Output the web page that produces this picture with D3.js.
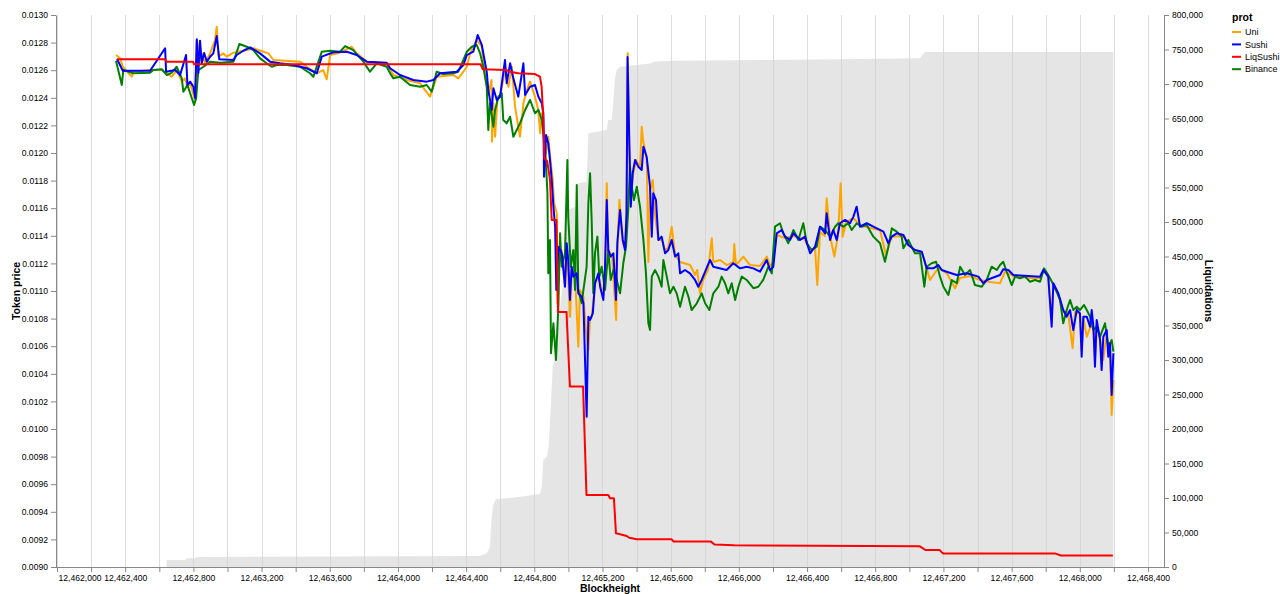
<!DOCTYPE html>
<html>
<head>
<meta charset="utf-8">
<script src="https://cdn.jsdelivr.net/npm/d3@7"></script>
<style>
  body { margin: 0; background: #fff; }
  svg text { font-family: "Liberation Sans", Arial, sans-serif; }
</style>
</head>
<body>
<svg id="chart"></svg>
<script>
// series names + colours, legend order
const protNames = ['Uni', 'Sushi', 'LiqSushi', 'Binance'];
const protColors = ['orange', 'blue', 'red', 'green'];

// [blockheight, token price]
const uni = [
  [12462346,0.012710],[12462370,0.012686],[12462386,0.012625],[12462439,0.012553],[12462448,0.012589],[12462546,0.012601],[12462615,0.012601],[12462644,0.012578],[12462673,0.012553],[12462703,0.012601],
  [12462732,0.012517],[12462751,0.012541],[12462765,0.012480],[12462781,0.012505],[12462810,0.012384],[12462820,0.012819],[12462839,0.012674],[12462849,0.012722],[12462869,0.012650],[12462898,0.012722],
  [12462927,0.012819],[12462937,0.012915],[12462947,0.012698],[12462976,0.012722],[12462996,0.012698],[12463035,0.012727],[12463113,0.012746],[12463152,0.012759],[12463211,0.012734],[12463240,0.012722],
  [12463269,0.012674],[12463426,0.012662],[12463465,0.012625],[12463524,0.012578],[12463562,0.012601],[12463582,0.012534],[12463602,0.012710],[12463660,0.012727],[12463729,0.012770],[12463758,0.012722],
  [12463817,0.012662],[12463934,0.012650],[12463973,0.012565],[12464052,0.012529],[12464130,0.012505],[12464188,0.012408],[12464228,0.012553],[12464325,0.012565],[12464354,0.012541],[12464384,0.012589],
  [12464404,0.012625],[12464423,0.012722],[12464462,0.012819],[12464492,0.012770],[12464511,0.012553],[12464529,0.012420],[12464549,0.012529],[12464552,0.012082],[12464560,0.012360],[12464570,0.012118],
  [12464583,0.012384],[12464599,0.012408],[12464628,0.012601],[12464648,0.012480],[12464668,0.012625],[12464687,0.012336],[12464716,0.012118],[12464736,0.012360],[12464756,0.012457],[12464775,0.012517],
  [12464804,0.012408],[12464823,0.012312],[12464834,0.012143],[12464844,0.012288],[12464853,0.012167],[12464869,0.011998],[12464882,0.012118],[12464892,0.011986],[12464908,0.011804],[12464916,0.011636],
  [12464932,0.011563],[12464936,0.010911],[12464941,0.011273],[12464961,0.011297],[12464980,0.011080],[12464990,0.011333],[12465010,0.010814],[12465020,0.011152],[12465039,0.011116],[12465058,0.010596],
  [12465068,0.011007],[12465088,0.010959],[12465103,0.010717],[12465117,0.010573],[12465127,0.010790],[12465137,0.010814],[12465156,0.011044],[12465176,0.011116],[12465186,0.011058],[12465205,0.010971],
  [12465215,0.011152],[12465225,0.011780],[12465234,0.011297],[12465256,0.011261],[12465280,0.010790],[12465287,0.011297],[12465299,0.011659],[12465319,0.011348],[12465332,0.011312],[12465341,0.011515],
  [12465348,0.012722],[12465357,0.012022],[12465366,0.011659],[12465379,0.011841],[12465397,0.011949],[12465420,0.011891],[12465430,0.012191],[12465438,0.012094],[12465460,0.011949],[12465469,0.011210],
  [12465479,0.011732],[12465495,0.011804],[12465508,0.011551],[12465528,0.011370],[12465549,0.011370],[12465567,0.011297],[12465585,0.011312],[12465606,0.011466],[12465626,0.011261],[12465655,0.011210],
  [12465714,0.011188],[12465743,0.011116],[12465756,0.011152],[12465772,0.010983],[12465790,0.011080],[12465819,0.011152],[12465841,0.011382],[12465850,0.011210],[12465890,0.011225],[12465929,0.011188],
  [12465968,0.011210],[12465973,0.011341],[12465983,0.011188],[12466026,0.011249],[12466066,0.011188],[12466124,0.011181],[12466164,0.011249],[12466183,0.011181],[12466202,0.011210],[12466222,0.011406],
  [12466271,0.011384],[12466320,0.011399],[12466359,0.011384],[12466388,0.011370],[12466417,0.011297],[12466447,0.011312],[12466460,0.011044],[12466476,0.011428],[12466505,0.011399],[12466515,0.011672],
  [12466535,0.011399],[12466560,0.011249],[12466582,0.011406],[12466597,0.011780],[12466609,0.011393],[12466629,0.011500],[12466671,0.011529],[12466711,0.011478],[12466769,0.011457],[12466828,0.011442],
  [12466863,0.011261],[12466897,0.011393],[12466965,0.011399],[12466994,0.011333],[12467033,0.011297],[12467073,0.011283],[12467102,0.011164],[12467121,0.011080],[12467170,0.011167],[12467219,0.011130],
  [12467268,0.011020],[12467297,0.011094],[12467356,0.011109],[12467415,0.011080],[12467473,0.011065],[12467532,0.011056],[12467561,0.011138],[12467610,0.011109],[12467708,0.011094],[12467767,0.011094],
  [12467790,0.011152],[12467815,0.011101],[12467835,0.010790],[12467845,0.011044],[12467874,0.010971],[12467903,0.010848],[12467931,0.010848],[12467958,0.010585],[12467972,0.010848],[12468001,0.010833],
  [12468011,0.010573],[12468021,0.010804],[12468041,0.010669],[12468060,0.010732],[12468079,0.010746],[12468089,0.010500],[12468101,0.010775],[12468119,0.010645],[12468138,0.010500],[12468158,0.010703],
  [12468167,0.010573],[12468177,0.010609],[12468187,0.010101],[12468197,0.010355]
];

const sushi = [
  [12462352,0.012681],[12462386,0.012596],[12462546,0.012596],[12462634,0.012759],[12462640,0.012589],[12462693,0.012601],[12462722,0.012565],[12462757,0.012710],[12462765,0.012493],[12462781,0.012517],
  [12462800,0.012480],[12462810,0.012399],[12462820,0.012824],[12462829,0.012580],[12462839,0.012814],[12462849,0.012650],[12462863,0.012725],[12462879,0.012662],[12462898,0.012698],[12462917,0.012722],
  [12462937,0.012848],[12462952,0.012679],[12463035,0.012674],[12463054,0.012710],[12463093,0.012741],[12463133,0.012766],[12463191,0.012722],[12463250,0.012662],[12463308,0.012650],[12463387,0.012638],
  [12463465,0.012614],[12463524,0.012578],[12463553,0.012698],[12463621,0.012730],[12463700,0.012734],[12463758,0.012710],[12463817,0.012662],[12463934,0.012654],[12463954,0.012614],[12464012,0.012565],
  [12464090,0.012529],[12464169,0.012517],[12464208,0.012529],[12464247,0.012578],[12464345,0.012589],[12464384,0.012638],[12464404,0.012710],[12464442,0.012734],[12464468,0.012855],[12464492,0.012783],
  [12464521,0.012587],[12464530,0.012457],[12464550,0.012312],[12464560,0.012469],[12464580,0.012384],[12464599,0.012408],[12464628,0.012674],[12464638,0.012505],[12464658,0.012650],[12464677,0.012541],
  [12464706,0.012408],[12464736,0.012650],[12464746,0.012420],[12464775,0.012480],[12464804,0.012493],[12464824,0.012408],[12464844,0.012360],[12464853,0.012288],[12464857,0.011828],[12464869,0.012130],
  [12464882,0.012070],[12464892,0.011949],[12464902,0.011804],[12464912,0.011611],[12464922,0.011466],[12464929,0.011007],[12464941,0.011321],[12464961,0.011273],[12464980,0.011031],[12464990,0.011346],
  [12464999,0.011225],[12465009,0.010935],[12465019,0.011176],[12465029,0.011104],[12465049,0.011128],[12465058,0.010983],[12465078,0.010959],[12465088,0.010911],[12465107,0.010089],[12465117,0.010814],
  [12465127,0.010790],[12465143,0.010838],[12465156,0.011056],[12465176,0.011128],[12465186,0.011031],[12465205,0.010935],[12465215,0.011176],[12465225,0.011659],[12465234,0.011297],[12465248,0.011249],
  [12465264,0.011273],[12465279,0.010935],[12465287,0.011346],[12465303,0.011587],[12465319,0.011370],[12465332,0.011297],[12465341,0.011565],[12465347,0.012696],[12465357,0.012094],[12465366,0.011611],
  [12465377,0.011853],[12465391,0.011949],[12465410,0.011901],[12465430,0.011877],[12465440,0.012046],[12465459,0.011973],[12465479,0.011756],[12465489,0.011394],[12465498,0.011708],[12465514,0.011659],
  [12465528,0.011370],[12465547,0.011394],[12465567,0.011273],[12465586,0.011297],[12465606,0.011370],[12465626,0.011249],[12465645,0.011273],[12465655,0.011128],[12465684,0.011152],[12465713,0.011128],
  [12465743,0.011080],[12465762,0.011031],[12465782,0.011080],[12465831,0.011225],[12465850,0.011176],[12465928,0.011152],[12465967,0.011201],[12466007,0.011164],[12466046,0.011176],[12466085,0.011164],
  [12466124,0.011140],[12466163,0.011225],[12466183,0.011152],[12466202,0.011176],[12466222,0.011418],[12466251,0.011442],[12466271,0.011394],[12466300,0.011370],[12466320,0.011418],[12466359,0.011370],
  [12466388,0.011394],[12466418,0.011273],[12466447,0.011321],[12466476,0.011466],[12466506,0.011418],[12466515,0.011563],[12466535,0.011370],[12466554,0.011442],[12466574,0.011370],[12466593,0.011491],
  [12466623,0.011515],[12466652,0.011491],[12466672,0.011539],[12466691,0.011611],[12466711,0.011466],[12466750,0.011491],[12466789,0.011466],[12466848,0.011430],[12466877,0.011346],[12466897,0.011394],
  [12466926,0.011418],[12466965,0.011406],[12466994,0.011333],[12467033,0.011297],[12467073,0.011285],[12467102,0.011164],[12467141,0.011164],[12467170,0.011188],[12467190,0.011152],[12467219,0.011140],
  [12467278,0.011116],[12467337,0.011128],[12467405,0.011104],[12467434,0.011056],[12467454,0.011080],[12467532,0.011116],[12467551,0.011157],[12467581,0.011152],[12467610,0.011116],[12467767,0.011104],
  [12467786,0.011152],[12467815,0.011104],[12467835,0.010741],[12467845,0.011056],[12467874,0.010983],[12467903,0.010862],[12467923,0.010814],[12467943,0.010862],[12467962,0.010717],[12467982,0.010862],
  [12468001,0.010838],[12468011,0.010524],[12468021,0.010814],[12468041,0.010814],[12468060,0.010741],[12468070,0.010862],[12468080,0.010741],[12468089,0.010451],[12468099,0.010790],[12468119,0.010645],
  [12468128,0.010427],[12468138,0.010669],[12468158,0.010717],[12468167,0.010524],[12468177,0.010621],[12468187,0.010246],[12468197,0.010549]
];

const liqSushi = [
  [12462352,0.012679],[12462634,0.012679],[12462643,0.012662],[12462798,0.012662],[12462804,0.012643],[12464485,0.012643],[12464497,0.012607],[12464638,0.012601],[12464657,0.012589],[12464706,0.012578],
  [12464804,0.012572],[12464833,0.012553],[12464843,0.012480],[12464853,0.012239],[12464859,0.011962],[12464876,0.011940],[12464892,0.011804],[12464902,0.011515],[12464930,0.011515],[12464939,0.010848],
  [12464989,0.010848],[12464993,0.010730],[12465009,0.010308],[12465086,0.010308],[12465106,0.009522],[12465234,0.009522],[12465244,0.009498],[12465267,0.009498],[12465279,0.009244],[12465303,0.009237],
  [12465342,0.009225],[12465357,0.009212],[12465401,0.009201],[12465606,0.009201],[12465617,0.009184],[12465836,0.009184],[12465857,0.009163],[12465971,0.009157],[12467062,0.009150],[12467094,0.009123],
  [12467177,0.009123],[12467198,0.009097],[12467858,0.009097],[12467889,0.009083],[12468194,0.009083]
];

const binance = [
  [12462346,0.012669],[12462380,0.012493],[12462389,0.012601],[12462448,0.012578],[12462546,0.012582],[12462565,0.012601],[12462615,0.012607],[12462644,0.012565],[12462673,0.012582],[12462702,0.012625],
  [12462732,0.012541],[12462741,0.012444],[12462765,0.012493],[12462781,0.012433],[12462804,0.012348],[12462816,0.012396],[12462829,0.012601],[12462859,0.012625],[12462898,0.012662],[12462957,0.012654],
  [12463035,0.012662],[12463070,0.012790],[12463113,0.012770],[12463152,0.012746],[12463191,0.012686],[12463230,0.012650],[12463260,0.012625],[12463289,0.012638],[12463348,0.012638],[12463426,0.012625],
  [12463484,0.012578],[12463504,0.012553],[12463553,0.012734],[12463602,0.012741],[12463660,0.012734],[12463690,0.012775],[12463738,0.012746],[12463797,0.012662],[12463836,0.012589],[12463876,0.012650],
  [12463934,0.012625],[12463954,0.012578],[12463973,0.012541],[12464012,0.012553],[12464071,0.012493],[12464130,0.012480],[12464169,0.012493],[12464198,0.012444],[12464227,0.012589],[12464266,0.012572],
  [12464325,0.012578],[12464354,0.012589],[12464384,0.012674],[12464404,0.012734],[12464433,0.012770],[12464462,0.012783],[12464482,0.012722],[12464501,0.012625],[12464521,0.012480],[12464530,0.012167],
  [12464540,0.012360],[12464560,0.012191],[12464570,0.012312],[12464589,0.012408],[12464609,0.012433],[12464618,0.012239],[12464638,0.012215],[12464658,0.012263],[12464677,0.012118],[12464697,0.012167],
  [12464716,0.012215],[12464746,0.012312],[12464775,0.012384],[12464804,0.012288],[12464824,0.012312],[12464844,0.012239],[12464863,0.012046],[12464877,0.011708],[12464882,0.011128],[12464892,0.011370],
  [12464898,0.010549],[12464912,0.010766],[12464927,0.010500],[12464941,0.010886],[12464951,0.011418],[12464961,0.011176],[12464980,0.011273],[12464994,0.011949],[12464999,0.011538],[12465014,0.011176],
  [12465029,0.011297],[12465039,0.011007],[12465049,0.011768],[12465058,0.011007],[12465078,0.010911],[12465088,0.011007],[12465107,0.011176],[12465117,0.011635],[12465127,0.011853],[12465137,0.011491],
  [12465146,0.010983],[12465156,0.011273],[12465170,0.011394],[12465181,0.011104],[12465195,0.011176],[12465215,0.011007],[12465234,0.011297],[12465248,0.011080],[12465264,0.011152],[12465279,0.011104],
  [12465303,0.010983],[12465322,0.011201],[12465338,0.011321],[12465352,0.011611],[12465361,0.011901],[12465371,0.011756],[12465385,0.011659],[12465401,0.011756],[12465420,0.011611],[12465440,0.011370],
  [12465455,0.011128],[12465469,0.010766],[12465479,0.010717],[12465489,0.011104],[12465508,0.011152],[12465528,0.011104],[12465547,0.011031],[12465557,0.011225],[12465577,0.011104],[12465596,0.010983],
  [12465616,0.011031],[12465635,0.010983],[12465655,0.010886],[12465684,0.011031],[12465704,0.010959],[12465723,0.010862],[12465753,0.010911],[12465782,0.010983],[12465802,0.010911],[12465827,0.010862],
  [12465850,0.010983],[12465880,0.011031],[12465899,0.011104],[12465919,0.011056],[12465938,0.010983],[12465958,0.011056],[12465978,0.010935],[12465997,0.011031],[12466017,0.011104],[12466046,0.011080],
  [12466085,0.011020],[12466114,0.011031],[12466143,0.011080],[12466173,0.011176],[12466193,0.011128],[12466212,0.011466],[12466241,0.011491],[12466261,0.011418],[12466290,0.011346],[12466320,0.011442],
  [12466349,0.011370],[12466378,0.011491],[12466398,0.011346],[12466427,0.011297],[12466457,0.011321],[12466476,0.011466],[12466506,0.011442],[12466535,0.011394],[12466564,0.011466],[12466583,0.011491],
  [12466613,0.011466],[12466642,0.011491],[12466662,0.011442],[12466691,0.011491],[12466720,0.011466],[12466750,0.011478],[12466789,0.011394],[12466828,0.011346],[12466857,0.011212],[12466877,0.011321],
  [12466897,0.011454],[12466926,0.011430],[12466955,0.011394],[12466965,0.011309],[12466994,0.011370],[12467033,0.011273],[12467063,0.011273],[12467088,0.011031],[12467102,0.011176],[12467131,0.011201],
  [12467157,0.011212],[12467180,0.011104],[12467200,0.011031],[12467229,0.010971],[12467249,0.011080],[12467278,0.011056],[12467298,0.011176],[12467327,0.011116],[12467356,0.011152],[12467385,0.011043],
  [12467425,0.011031],[12467454,0.011080],[12467483,0.011176],[12467513,0.011152],[12467532,0.011188],[12467551,0.011212],[12467571,0.011140],[12467601,0.011043],[12467620,0.011104],[12467649,0.011092],
  [12467679,0.011104],[12467708,0.011067],[12467737,0.011080],[12467767,0.011067],[12467790,0.011164],[12467815,0.011116],[12467841,0.011056],[12467864,0.010995],[12467884,0.010935],[12467903,0.010766],
  [12467923,0.010862],[12467943,0.010935],[12467962,0.010862],[12467982,0.010886],[12468001,0.010862],[12468025,0.010899],[12468041,0.010862],[12468060,0.010814],[12468080,0.010717],[12468099,0.010741],
  [12468119,0.010669],[12468148,0.010766],[12468167,0.010596],[12468187,0.010645],[12468197,0.010560]
];

// [blockheight, cumulative liquidations]
const liquidations = [
  [12462643,10145],[12462752,10145],[12462760,12600],[12462812,12600],[12462820,14493],[12464481,15942],[12464521,19855],[12464540,29420],[12464550,72900],[12464559,89856],
  [12464575,98117],[12464638,99567],[12464716,101886],[12464833,105799],[12464843,114060],[12464853,155075],[12464873,159858],[12464882,169568],[12464892,208264],[12464908,290295],
  [12464921,304788],[12464951,372470],[12464970,420732],[12464980,483632],[12464990,517400],[12465043,522000],[12465056,556096],[12465107,558415],[12465117,628561],[12465225,633344],
  [12465234,647837],[12465254,647837],[12465263,672040],[12465273,708273],[12465283,720302],[12465303,725085],[12465401,727549],[12465488,730012],[12465498,732331],[12465615,733780],
  [12466593,735809],[12467062,737259],[12467092,746390],[12468197,746390]
];

const xTicks = d3.range(12462000, 12468401, 200);
const priceTicks = d3.range(45, 66).map(i => i / 5000);
const liqTicks = d3.range(0, 800001, 50000);

const width = 1280, height = 594;
const plot = { left: 56, right: 1164, top: 15, bottom: 567 };

const svg = d3.select('#chart')
  .attr('width', width)
  .attr('height', height);

svg.append('rect').attr('width', width).attr('height', height).attr('fill', '#fff');

const x = d3.scaleLinear()
  .domain([12461994, 12468494])
  .range([plot.left, plot.right]);

const yPrice = d3.scaleLinear()
  .domain([0.009, 0.013])
  .range([plot.bottom, plot.top]);

const yLiq = d3.scaleLinear()
  .domain([0, 800000])
  .range([plot.bottom, plot.top]);

// vertical grid
svg.append('g')
  .selectAll('line')
  .data(xTicks)
  .join('line')
  .attr('x1', d => Math.round(x(d)) + 0.5)
  .attr('x2', d => Math.round(x(d)) + 0.5)
  .attr('y1', plot.top)
  .attr('y2', plot.bottom)
  .attr('stroke', '#ddd')
  .attr('stroke-width', 1);

// liquidations area
svg.append('path')
  .datum(liquidations)
  .attr('fill', 'lightgray')
  .attr('fill-opacity', 0.6)
  .attr('d', d3.area()
    .x(d => x(d[0]))
    .y0(yLiq(0))
    .y1(d => yLiq(d[1])));

// axes
const fmtBlock = d3.format(',');
const xAxis = svg.append('g')
  .attr('transform', `translate(0,${plot.bottom})`)
  .call(d3.axisBottom(x).tickValues(xTicks).tickSize(5).tickSizeOuter(0)
    .tickFormat((d, i) => i % 2 === 0 ? fmtBlock(d) : ''));

const leftAxis = svg.append('g')
  .attr('transform', `translate(${plot.left},0)`)
  .call(d3.axisLeft(yPrice).tickValues(priceTicks).tickSize(5).tickSizeOuter(0)
    .tickFormat(d3.format('.4f')));

const rightAxis = svg.append('g')
  .attr('transform', `translate(${plot.right},0)`)
  .call(d3.axisRight(yLiq).tickValues(liqTicks).tickSize(5).tickSizeOuter(0)
    .tickFormat(d3.format(',')));

[xAxis, leftAxis, rightAxis].forEach(g => {
  g.select('.domain').attr('stroke', '#888');
  g.selectAll('.tick line').attr('stroke', '#888');
  g.selectAll('.tick text').attr('font-size', 8.6).attr('fill', '#000');
});
// first x label flush with the axis start
xAxis.select('.tick text').attr('text-anchor', 'start').attr('x', 1);
xAxis.select('.domain').attr('d', `M${plot.left},0.5H${plot.right}`);

// price lines (draw order: Uni, Binance, Sushi, LiqSushi)
const line = d3.line()
  .x(d => x(d[0]))
  .y(d => yPrice(d[1]));

const seriesData = { Uni: uni, Sushi: sushi, LiqSushi: liqSushi, Binance: binance };
['Uni', 'Binance', 'Sushi', 'LiqSushi'].forEach(name => {
  svg.append('path')
    .datum(seriesData[name])
    .attr('fill', 'none')
    .attr('stroke', protColors[protNames.indexOf(name)])
    .attr('stroke-width', 2)
    .attr('stroke-linejoin', 'round')
    .attr('d', line);
});

// axis titles
svg.append('text')
  .attr('transform', `translate(20,${(plot.top + plot.bottom) / 2}) rotate(-90)`)
  .attr('text-anchor', 'middle')
  .attr('font-size', 10.5)
  .attr('font-weight', 'bold')
  .text('Token price');

svg.append('text')
  .attr('transform', `translate(1205,${(plot.top + plot.bottom) / 2}) rotate(90)`)
  .attr('text-anchor', 'middle')
  .attr('font-size', 10.5)
  .attr('font-weight', 'bold')
  .text('Liquidations');

svg.append('text')
  .attr('x', (plot.left + plot.right) / 2)
  .attr('y', 592)
  .attr('text-anchor', 'middle')
  .attr('font-size', 10.5)
  .attr('font-weight', 'bold')
  .text('Blockheight');

// legend
const legend = svg.append('g').attr('transform', 'translate(1232,0)');
legend.append('text')
  .attr('x', 0).attr('y', 21)
  .attr('font-size', 10.5)
  .attr('font-weight', 'bold')
  .text('prot');

const legendItems = legend.selectAll('.item')
  .data(protNames)
  .join('g')
  .attr('class', 'item')
  .attr('transform', (d, i) => `translate(0,${32 + i * 12.4})`);
legendItems.append('line')
  .attr('x1', 0).attr('x2', 9)
  .attr('stroke', (d, i) => protColors[i])
  .attr('stroke-width', 2);
legendItems.append('text')
  .attr('x', 13).attr('y', 3.2)
  .attr('font-size', 9)
  .text(d => d);
</script>
</body>
</html>
